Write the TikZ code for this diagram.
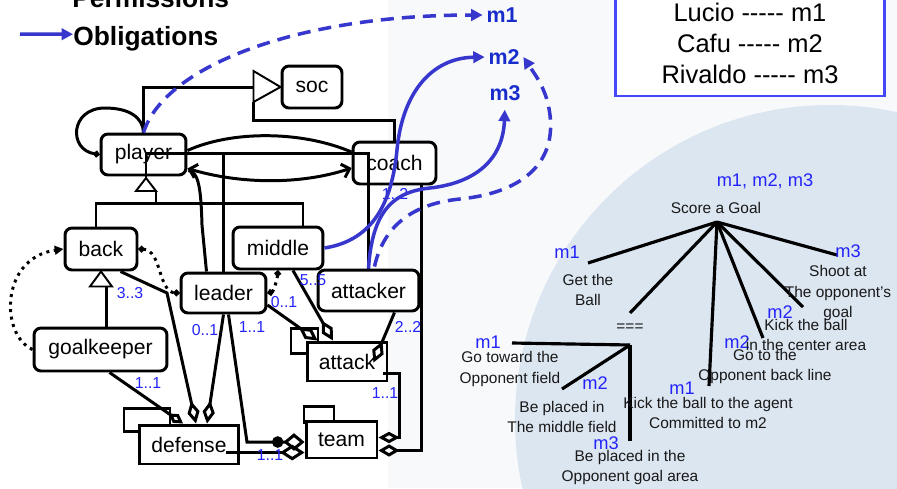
\documentclass[tikz,border=0pt]{standalone}
\usepackage{fontspec}
\setmainfont{Liberation Sans}
\usepackage{tikz}
\usetikzlibrary{arrows.meta,positioning,calc}
\definecolor{oblblue}{RGB}{55,55,205}
\definecolor{mblue}{RGB}{25,45,205}
\definecolor{cardblue}{RGB}{35,35,250}
\definecolor{mapblue}{RGB}{70,70,250}
\definecolor{bgsoft}{RGB}{247,249,251}
\definecolor{bgblue}{RGB}{220,230,241}
\definecolor{treeink}{RGB}{25,25,25}
\newcommand{\mapdash}{\mbox{-}\mbox{-}\mbox{-}\mbox{-}\mbox{-}}

\begin{document}
\begin{tikzpicture}[x=0.02cm, y=-0.02cm,
  role/.style={draw, line width=1.7pt, rounded corners=4pt, fill=white,
               inner sep=0pt, font=\fontsize{12}{14}\selectfont},
  grp/.style={draw, line width=1.7pt, fill=white, inner sep=0pt,
              font=\fontsize{12}{14}\selectfont},
  tab/.style={draw, line width=1.7pt, fill=white},
  link/.style={line width=1.7pt},
  tri/.style={draw, line width=1.1pt, fill=white},
  dotlink/.style={line width=1.7pt, dash pattern=on 1.7pt off 2.6pt},
  agg/.style={-{Diamond[open, length=13pt, width=7pt]}},
  card/.style={text=cardblue, inner sep=0pt, font=\fontsize{9}{10}\selectfont},
  obl/.style={draw=oblblue, line width=2pt, -{Triangle[length=6.5pt, width=6.5pt]}},
  perm/.style={obl, dash pattern=on 7.4pt off 4.6pt},
  mlabel/.style={text=mblue, inner sep=2pt, font=\fontsize{12.2}{14}\selectfont\bfseries},
  tlabel/.style={text=cardblue, inner sep=0pt, font=\fontsize{10.4}{12}\selectfont},
  leaf/.style={text=treeink, align=center, inner sep=0pt, font=\fontsize{8.8}{11.4}\selectfont},
  branch/.style={line width=1.8pt}
]
\useasboundingbox (0,0) rectangle (897,488);

% Background
\fill[white] (0,0) rectangle (897,488);
\begin{scope}
  \clip (388,0) rectangle (897,488);
  \fill[bgsoft] (388,0) rectangle (897,488);
  \fill[bgblue] (830,420) circle (315);
\end{scope}

% Legend
\node[anchor=base west, inner sep=0pt, font=\fontsize{15}{18}\selectfont\bfseries] (permtext) at (72,7) {Permissions};
\node[anchor=base west, inner sep=0pt, font=\fontsize{15}{18}\selectfont\bfseries] (obltext) at (73,45) {Obligations};
\coordinate (oblfrom) at (20,34);
\draw[obl] (oblfrom) -- ($(obltext.west)+(0,-4)$);

\node[draw=mapblue, line width=1.7pt, fill=white, minimum width=5.4cm, minimum height=2.12cm,
      align=center, font=\fontsize{14.5}{17.6}\selectfont] (mapping) at (750,43)
  {Lucio \mapdash{} m1\\Cafu \mapdash{} m2\\Rivaldo \mapdash{} m3};

\node[mlabel] (m1) at (502,15) {m1};
\node[mlabel] (m2) at (504,57) {m2};
\node[mlabel] (m3) at (505,93) {m3};

% Package tabs
\draw[tab] (124,408) rectangle (170,431);
\draw[tab] (291,328) rectangle (318,353);
\draw[tab] (304,406) rectangle (334,422);

% Roles
\node[role, minimum width=1.2cm, minimum height=0.84cm] (soc) at (312,87) {soc};
\node[role, minimum width=1.7cm, minimum height=0.82cm] (player) at (143.5,154.5) {player};
\node[role, minimum width=1.66cm, minimum height=0.84cm] (coach) at (394.5,163) {coach};
\node[role, minimum width=1.44cm, minimum height=0.84cm] (back) at (101,249) {back};
\node[role, minimum width=1.8cm, minimum height=0.84cm] (middle) at (278,248) {middle};
\node[role, minimum width=1.7cm, minimum height=0.8cm] (leader) at (223.5,293) {leader};
\node[role, minimum width=2.02cm, minimum height=0.82cm] (attacker) at (368.5,290.5) {attacker};
\node[role, minimum width=2.66cm, minimum height=0.86cm] (goalkeeper) at (100.5,349.5) {goalkeeper};

% Groups
\node[grp, minimum width=2.0cm, minimum height=0.78cm] (defense) at (189,444.5) {defense};
\node[grp, minimum width=1.6cm, minimum height=0.78cm] (attack) at (347,361.5) {attack};
\node[grp, minimum width=1.42cm, minimum height=0.74cm] (team) at (341.5,439.5) {team};

% Inheritance
\coordinate (socbase) at ($(soc.west)+(-27,0)$);
\draw[link] (player.north) |- (socbase);
\draw[link] (coach.north) -- ++(0,-20) -| ($(socbase)+(0,15)$);
\draw[tri] ($(socbase)+(0,-16)$) -- (soc.west) -- ($(socbase)+(0,15)$) -- cycle;

\coordinate (plhub) at (146,153);
\coordinate (genapex) at (146,178);
\coordinate (genbar) at (156,203);
\draw[link] (attacker.north) |- (plhub) -- (genapex);
\draw[link] ($(back.north)+(-5,0)$) |- (genbar) -- ++(0,-12);
\draw[link] ($(middle.north)+(25,0)$) |- (genbar);
\draw[tri] (genapex) -- ++(10,13) -- ++(-20,0) -- cycle;

\draw[link] ($(goalkeeper.north)+(6,0)$) -- ++(0,-43);
\draw[tri] (back.south) -- ++(11,15) -- ++(-22,0) -- cycle;

% Player links
\draw[link, {Circle[length=3.5pt]}-] (player.west) .. controls (68,150) and (70,108) .. (105,108)
  .. controls (130,108) and (143,118) .. (player.north);
\draw[link] ($(player.east)+(0,-4)$) .. controls (230,131) and (300,130) .. ($(coach.west)+(0,-11)$);
\draw[link, {Straight Barb[length=4pt]}-{Straight Barb[length=4pt]}] ($(player.east)+(0,14)$)
  .. controls (240,184) and (300,185) .. ($(coach.west)+(0,5)$);
\draw[link] (leader.north) -- (leader.north |- plhub);
\draw[link] ($(player.east)+(1,16)$) .. controls (199,172) and (201,190) .. (202,225)
  -- ($(leader.north)+(-17,0)$);

% Compatibility (dotted)
\draw[dotlink, -{Triangle[length=5pt, width=5pt]}] (goalkeeper.west) .. controls (0,335) and (0,258) .. (back.west);
\draw[dotlink, {Circle[length=3.5pt]}-{Circle[length=3.5pt]}] (back.east) .. controls (162,250) and (158,292) .. (leader.west);
\draw[dotlink, {Circle[length=3.5pt]}-{Circle[length=3.5pt]}] (middle.south) .. controls (277,281) and (273,292) .. (leader.east);

% Composition into groups
\coordinate (bkbend) at (167,293);
\draw[link, agg] ($(back.south east)+(-18,0)$) -- (bkbend) -- ($(defense.north)+(7,0)$);
\draw[link, agg] (leader.south) -- ($(defense.north)+(18,0)$);
\draw[link, -{Diamond[open, length=10pt, width=6pt]}] ($(goalkeeper.south)+(9,0)$) -- ($(defense.north)+(-6,0)$);

\draw[link, agg] ($(attacker.south)+(26,0)$) -- ($(attack.east)+(-15,1)$);
\draw[link, agg] ($(leader.east)+(0,12)$) -- ($(attack.north west)+(12,0)$);
\draw[link, agg] ($(middle.south)+(15,0)$) -- ($(attack.north)+(-14,0)$);

\coordinate (ldbend) at (247,442);
\draw[link, -{Circle[length=6.5pt] Diamond[open, length=12pt, width=10pt]}]
  ($(leader.south)+(5,0)$) -- (ldbend) -- (ldbend -| team.west);
\coordinate (dfout) at ($(defense.east)+(-14,8)$);
\draw[link, -{Diamond[open, length=14pt, width=9pt]}] (dfout) -- (dfout -| team.west);
\draw[link, -{Diamond[open, length=12pt, width=6.5pt]}] ($(attack.east)+(-5,12)$)
  -| ($(team.east)+(21,-2)$) -- ($(team.east)+(0,-2)$);
\draw[link, -{Diamond[open, length=12pt, width=7pt]}] ($(coach.south)+(27,0)$) |- ($(team.east)+(0,11)$);

% Cardinalities
\node[card] (c1) at (130,293) {3..3};
\node[card] (c2) at (205,330) {0..1};
\node[card] (c3) at (252,327) {1..1};
\node[card] (c4) at (284,302) {0..1};
\node[card] (c5) at (313,280) {5..5};
\node[card] (c6) at (408,327) {2..2};
\node[card] (c7) at (385,393) {1..1};
\node[card] (c8) at (148,383) {1..1};
\node[card] (c9) at (270,455) {1..1};
\node[card] (c10) at (395,194) {1..2};

% Permissions and obligations
\draw[perm] (player.north) .. controls (165,65) and (300,15) .. (m1.west);
\draw[obl] (middle.east) .. controls (375,240) and (392,200) .. (397,150)
  .. controls (402,95) and (430,58) .. (m2.west);
\draw[obl, shorten >=3pt] (attacker.north) .. controls (372,215) and (390,192) .. (430,188)
  .. controls (475,183) and (503,160) .. (m3.south);
\draw[perm] ($(attacker.north)+(6,-2)$) .. controls (385,220) and (420,203) .. (460,199)
  .. controls (520,193) and (556,165) .. (550,115) .. controls (547,90) and (536,76) .. (m2.east);

% Goal tree
\node[tlabel] (goalm) at (765,181) {m1, m2, m3};
\node[leaf] (goal) at (716,208) {Score a Goal};
\coordinate (root) at (717,222);
\coordinate (getend) at (588,263);
\coordinate (eqend) at (630,313);
\coordinate (kickend) at (709,386);
\coordinate (backend) at (763,338);
\coordinate (centreend) at (803,307);
\coordinate (shootend) at (837,255);
\foreach \e in {getend,eqend,kickend,backend,centreend,shootend}
  \draw[branch] (root) -- (\e);

\coordinate (sub) at (630,345);
\coordinate (towardend) at (512,343);
\coordinate (middleend) at (562,389);
\coordinate (areaend) at (630,441);
\foreach \e in {towardend,middleend,areaend}
  \draw[branch] (sub) -- (\e);

\node[tlabel] (getm) at (567,252) {m1};
\node[leaf] (get) at (588,290) {Get the\\Ball};
\node[leaf] (eq) at (630,328) {===};
\node[tlabel] (kickm) at (682,388) {m1};
\node[leaf] (kick) at (708,413) {Kick the ball to the agent\\Committed to m2};
\node[leaf] (backl) at (765,366.5) {Go to the\\Opponent back line};
\node[tlabel] (backm) at (737,342) {m2};
\node[leaf] (centre) at (806,335) {Kick the ball\\in the center area};
\node[tlabel] (centrem) at (780,312) {m2};
\node[tlabel] (shootm) at (848,251) {m3};
\node[leaf] (shoot) at (838,293) {Shoot at\\The opponent’s\\goal};

\node[tlabel] (towardm) at (488,342) {m1};
\node[leaf] (toward) at (510,369) {Go toward the\\Opponent field};
\node[tlabel] (middlem) at (595,383) {m2};
\node[leaf] (middlel) at (562,416.5) {Be placed in\\The middle field};
\node[tlabel] (aream) at (606,443) {m3};
\node[leaf] (area) at (630,467.5) {Be placed in the\\Opponent goal area};

\end{tikzpicture}
\end{document}
